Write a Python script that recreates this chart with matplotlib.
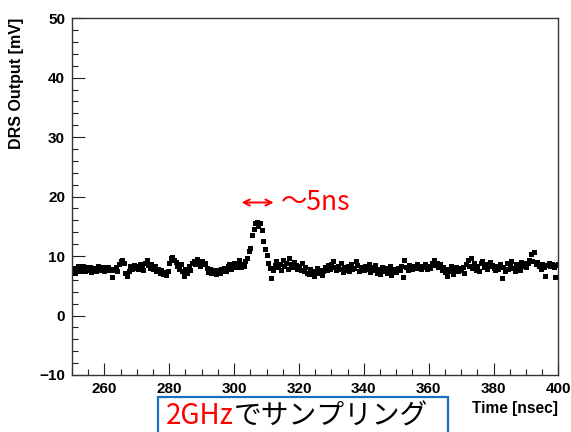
import numpy as np
import matplotlib
matplotlib.use('Agg')
import matplotlib.pyplot as plt
from matplotlib.patches import Rectangle
from matplotlib.ticker import MultipleLocator

# DRS4 waveform, 2 GHz sampling (0.5 ns step), 250-400 ns
t_start, t_step = 250.0, 0.5
drs_mv = [
    # 250-260
    7.6, 8.0, 7.2, 7.9, 8.3, 7.5, 7.8, 8.4, 7.4, 8.1, 7.7, 8.2, 7.3, 7.9, 8.0, 7.5, 8.3, 7.6, 7.9, 8.1,
    # 260-270
    7.4, 7.8, 8.2, 7.6, 7.9, 6.4, 7.7, 8.1, 7.5, 8.6, 9.2, 9.4, 8.8, 7.2, 6.7, 7.4, 8.3, 7.8, 8.5, 8.0,
    # 270-280
    8.4, 7.9, 8.7, 8.2, 7.6, 8.9, 9.3, 8.5, 8.0, 8.6, 7.8, 8.3, 7.5, 7.9, 7.2, 7.6, 6.9, 7.3, 6.8, 7.4,
    # 280-290
    8.9, 9.6, 9.9, 9.3, 9.0, 8.4, 7.9, 8.6, 7.5, 6.6, 7.8, 7.2, 8.3, 7.7, 8.8, 9.2, 8.7, 9.5, 9.0, 8.4,
    # 290-300
    9.1, 8.6, 8.9, 8.0, 7.3, 7.8, 7.1, 7.6, 7.4, 6.9, 7.7, 7.2, 7.8, 7.5, 8.0, 7.4, 8.3, 8.6, 7.9, 8.4,
    # 300-310 (pulse)
    8.8, 8.2, 8.6, 9.4, 8.1, 8.7, 8.3, 9.1, 9.6, 10.8, 11.4, 13.6, 14.6, 15.5, 15.8, 15.1, 15.6, 14.4, 12.5, 11.2,
    # 310-320
    10.2, 8.9, 8.0, 6.3, 7.6, 8.5, 9.2, 8.1, 8.7, 7.7, 9.3, 8.4, 8.8, 7.9, 9.6, 8.6, 8.2, 9.0, 8.5, 7.8,
    # 320-330
    8.3, 7.6, 8.9, 7.4, 8.1, 7.2, 6.9, 7.8, 7.3, 6.6, 7.5, 8.0, 7.1, 7.7, 6.8, 7.4, 8.2, 7.6, 8.5, 7.9,
    # 330-340
    8.7, 9.1, 8.2, 7.6, 8.4, 7.9, 8.8, 7.3, 8.1, 7.7, 8.3, 7.5, 8.6, 7.8, 8.0, 9.1, 8.5, 7.4, 7.9, 8.2,
    # 340-350
    7.6, 8.4, 7.9, 8.7, 7.3, 8.1, 7.7, 8.5, 7.2, 7.8, 6.9, 8.2, 7.5, 8.0, 7.1, 7.6, 8.3, 6.8, 7.4, 7.9,
    # 350-360
    7.3, 8.0, 7.6, 8.4, 6.4, 9.4, 8.2, 7.7, 8.5, 8.1, 7.9, 8.4, 8.0, 8.6, 8.2, 7.8, 8.3, 8.1, 8.7, 7.9,
    # 360-370
    8.4, 8.0, 8.8, 9.3, 8.5, 8.9, 8.1, 8.6, 7.6, 8.2, 7.3, 6.7, 7.9, 7.4, 8.3, 7.0, 7.7, 8.1, 7.5, 8.0,
    # 370-380
    7.6, 8.2, 7.2, 8.7, 9.4, 8.3, 9.6, 8.0, 8.8, 7.7, 8.4, 7.5, 8.9, 9.2, 8.1, 8.6, 7.9, 8.3, 9.0, 8.5,
    # 380-390
    8.0, 7.6, 8.4, 7.9, 8.7, 6.3, 8.2, 7.5, 8.8, 7.8, 8.5, 9.1, 8.0, 7.4, 8.6, 8.2, 7.7, 9.0, 8.4, 8.8,
    # 390-400
    8.1, 8.9, 9.4, 10.4, 9.2, 10.6, 8.7, 9.0, 8.3, 7.9, 8.6, 8.2, 6.6, 8.5, 8.9, 8.3, 8.6, 8.1, 6.4, 8.5,
    8.7,
]
time_ns = t_start + t_step * np.arange(len(drs_mv))

plt.rcParams['font.family'] = ['Liberation Sans', 'DejaVu Sans']
cjk = ['Noto Sans CJK JP', 'DejaVu Sans']

fig = plt.figure(figsize=(5.71, 4.32), dpi=100)
ax = fig.add_axes([0.126, 0.132, 0.852, 0.826])

ax.plot(time_ns, drs_mv, 's', color='black', markersize=3.6, markeredgewidth=0)

ax.set_xlim(250, 400)
ax.set_ylim(-10, 50)
ax.xaxis.set_major_locator(MultipleLocator(20))
ax.xaxis.set_minor_locator(MultipleLocator(5))
ax.yaxis.set_major_locator(MultipleLocator(10))
ax.yaxis.set_minor_locator(MultipleLocator(2))
ax.tick_params(which='both', direction='in', top=False, right=False,
               width=0.8, colors='#222222', labelcolor='black')
ax.tick_params(which='major', length=9, labelsize=11, pad=5)
ax.tick_params(which='minor', length=4.5)
for lab in ax.get_xticklabels() + ax.get_yticklabels():
    lab.set_fontweight('bold')
for sp in ax.spines.values():
    sp.set_linewidth(1.0)
    sp.set_color('#333333')

ax.set_ylabel('DRS Output [mV]', loc='top', fontsize=11.5, fontweight='bold')
ax.yaxis.set_label_coords(-0.098, 1.0)
ax.set_xlabel('Time [nsec]', loc='right', fontsize=11.2, fontweight='bold')
ax.xaxis.set_label_coords(1.0, -0.072)

# ~5 ns width annotation
ax.annotate('', xy=(302.3, 19.0), xytext=(312.2, 19.0),
            arrowprops=dict(arrowstyle='<->', color='red', lw=1.4,
                            shrinkA=0, shrinkB=0, mutation_scale=11))
ax.text(314.3, 19.0, '～5ns', color='red', fontsize=19, va='center', ha='left',
        family=cjk)

# caption box at the bottom
fig.patches.append(Rectangle((0.277, -0.05), 0.508, 0.131, transform=fig.transFigure,
                             fill=False, edgecolor='#1a70c0', linewidth=1.6))
t1 = fig.text(0.290, 0.036, '2GHz', color='red', fontsize=20, va='center', ha='left',
              family=cjk)
ax.annotate('でサンプリング', xy=(1, 0.5), xycoords=t1, va='center', ha='left',
            color='black', fontsize=20, family=cjk, annotation_clip=False)

fig.savefig('out.png', dpi=100)
